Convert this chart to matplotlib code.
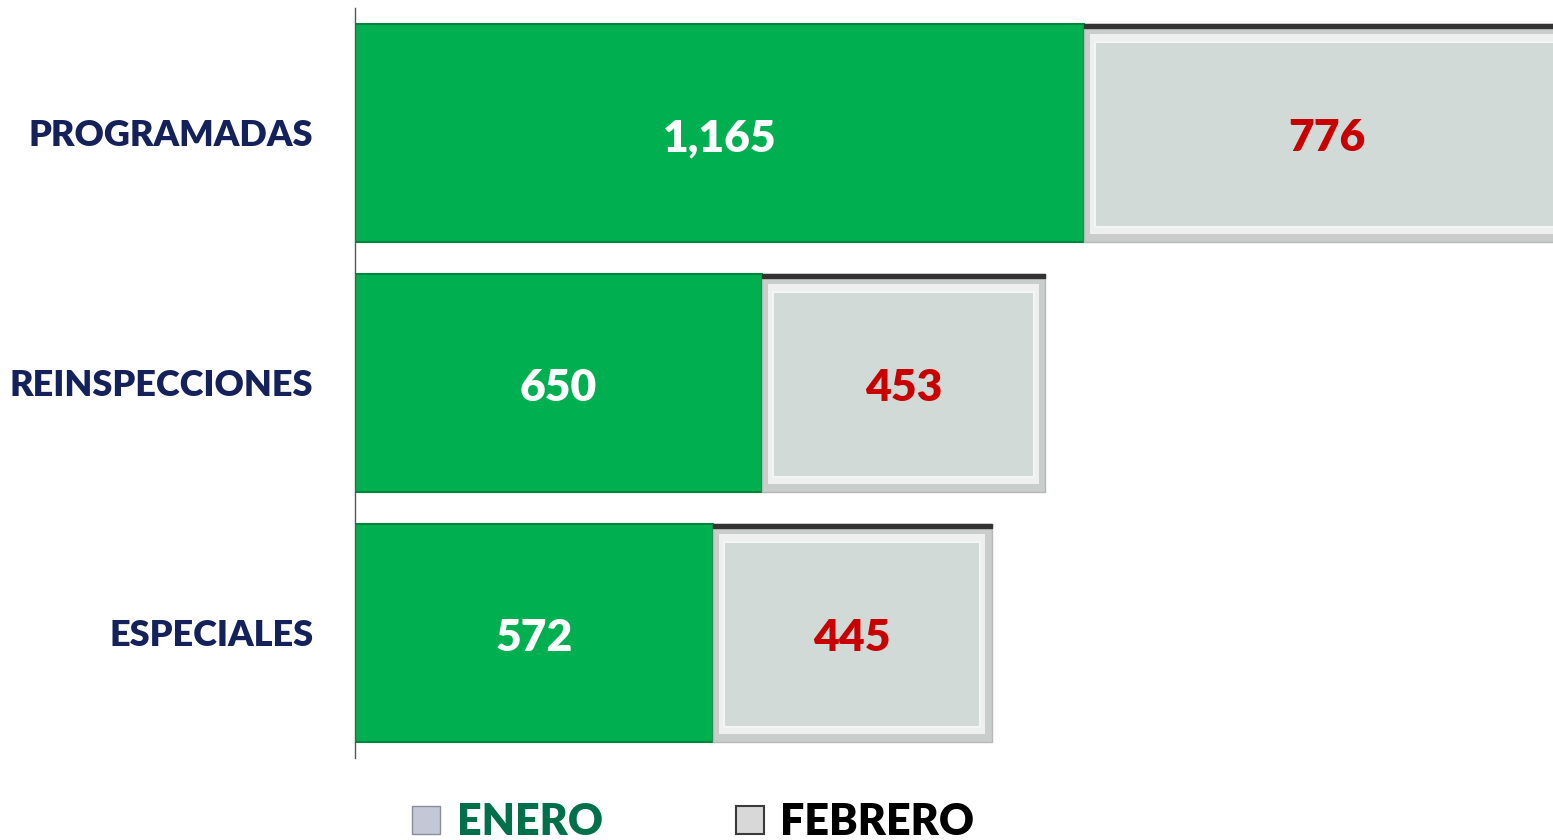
import matplotlib.pyplot as plt
from matplotlib.patches import Rectangle

# Datos
categorias = ['PROGRAMADAS', 'REINSPECCIONES', 'ESPECIALES']
enero = [1165, 650, 572]
febrero = [776, 453, 445]

verde = '#00B050'
gris = '#D2DAD7'

fig = plt.figure(figsize=(15.53, 8.4), dpi=100)
ax = fig.add_axes([355 / 1553, 82 / 840, 1 - 355 / 1553, 750 / 840])

y = list(range(len(categorias)))
alto = 0.87

# Barras de enero (verde)
ax.barh(y, enero, height=alto, color=verde, edgecolor='#00853D', linewidth=1.5, zorder=2)

# Barras de febrero (gris con bisel)
ax.barh(y, febrero, left=enero, height=alto, color='#C9CDCB', edgecolor='#B5B8B7',
        linewidth=1.0, zorder=2)
for i in y:
    x0 = enero[i]
    w = febrero[i]
    # borde oscuro superior
    ax.add_patch(Rectangle((x0, i - alto / 2), w, 0.015, color='#333333', zorder=3))
    # cara interna
    ax.add_patch(Rectangle((x0 + 10, i - alto / 2 + 0.04), w - 20, alto - 0.07,
                           facecolor='#EEF0EF', edgecolor='none', zorder=3))
    ax.add_patch(Rectangle((x0 + 18, i - alto / 2 + 0.07), w - 36, alto - 0.13,
                           facecolor=gris, edgecolor='#F4F6F5', linewidth=1.5, zorder=4))

# Etiquetas de valor
for i in y:
    ax.text(enero[i] / 2, i + 0.02, f'{enero[i]:,}', ha='center', va='center',
            color='white', fontsize=32, fontweight='heavy', family='Lato', zorder=5)
    ax.text(enero[i] + febrero[i] / 2, i + 0.02, f'{febrero[i]:,}', ha='center', va='center',
            color='#C80000', fontsize=32, fontweight='heavy', family='Lato', zorder=5)

ax.set_xlim(0, 1914)
ax.set_ylim(2.5, -0.5)
ax.set_yticks(y)
ax.set_yticklabels(categorias, fontsize=26, fontweight='heavy', family='Lato', color='#14215A')
ax.tick_params(axis='y', length=0, pad=30)
ax.set_xticks([])
for s in ['top', 'right', 'bottom']:
    ax.spines[s].set_visible(False)
ax.spines['left'].set_color('#555555')
ax.spines['left'].set_linewidth(1)

# Leyenda
fig.patches.append(Rectangle((412 / 1553, 6 / 840), 28 / 1553, 28 / 840, transform=fig.transFigure,
                             facecolor='#C4C8D6', edgecolor='#8A8E9C', linewidth=1))
fig.text(457 / 1553, 18 / 840, 'ENERO', fontsize=31, fontweight='heavy', family='Lato',
         color='#00704A', va='center', ha='left')
fig.patches.append(Rectangle((736 / 1553, 6 / 840), 28 / 1553, 28 / 840, transform=fig.transFigure,
                             facecolor='#D8D8D8', edgecolor='#3A3A3A', linewidth=1.5))
fig.text(780 / 1553, 18 / 840, 'FEBRERO', fontsize=31, fontweight='heavy', family='Lato',
         color='black', va='center', ha='left')

plt.savefig('out.png', dpi=100)
